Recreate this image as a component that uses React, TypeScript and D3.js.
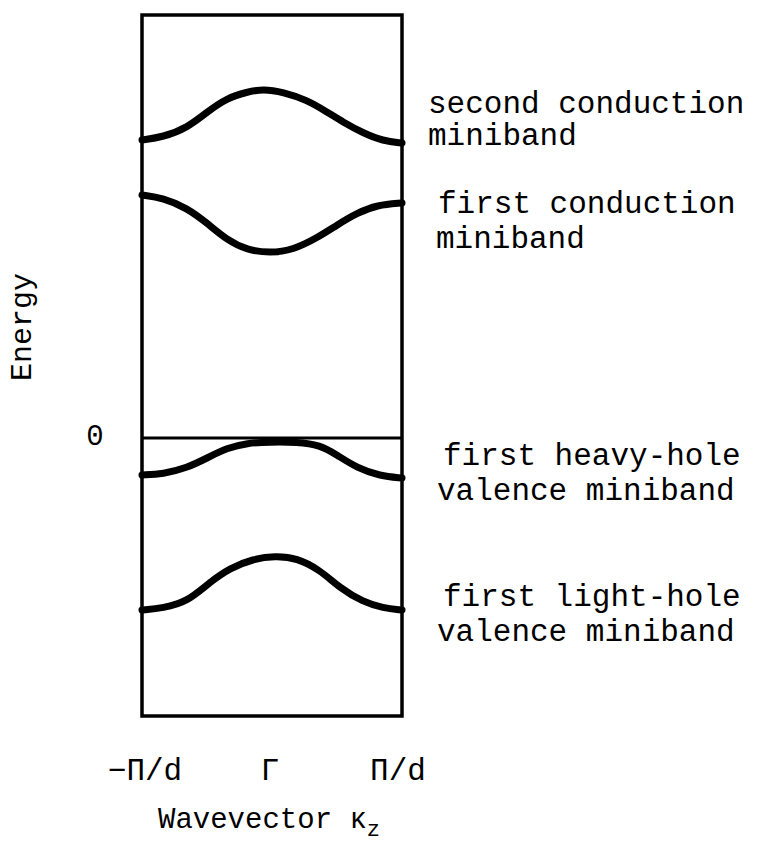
import React from "react";
import * as d3 from "d3";

// Wavevector in units of π/d, energy in arbitrary units (valence-band top = 0)
type Pt = [number, number];

const secondConduction: Pt[] = [
  [-1, 2.98], [-0.838, 3.01], [-0.654, 3.1], [-0.5, 3.26], [-0.346, 3.4],
  [-0.192, 3.46], [-0.069, 3.49], [0.085, 3.46], [0.269, 3.38], [0.423, 3.26],
  [0.546, 3.16], [0.7, 3.05], [0.854, 2.97], [1, 2.95],
];

const firstConduction: Pt[] = [
  [-1, 2.43], [-0.838, 2.4], [-0.654, 2.3], [-0.5, 2.15], [-0.346, 1.98],
  [-0.192, 1.88], [-0.015, 1.85], [0.162, 1.88], [0.346, 2.0], [0.5, 2.13],
  [0.654, 2.25], [0.808, 2.33], [1, 2.35],
];

const heavyHole: Pt[] = [
  [-1, -0.37], [-0.838, -0.36], [-0.654, -0.3], [-0.5, -0.2], [-0.346, -0.1],
  [-0.192, -0.05], [-0.015, -0.04], [0.192, -0.04], [0.369, -0.07], [0.5, -0.17],
  [0.654, -0.3], [0.831, -0.38], [1, -0.4],
];

const lightHole: Pt[] = [
  [-1, -1.72], [-0.838, -1.7], [-0.654, -1.64], [-0.477, -1.44], [-0.323, -1.3],
  [-0.146, -1.21], [0.023, -1.18], [0.192, -1.2], [0.369, -1.32], [0.523, -1.5],
  [0.7, -1.64], [0.854, -1.7], [1, -1.72],
];

const bands: Pt[][] = [secondConduction, firstConduction, heavyHole, lightHole];

const bandLabels: string[][] = [
  ["second conduction", "miniband"],
  ["first conduction", "miniband"],
  ["first heavy-hole", "valence miniband"],
  ["first light-hole", "valence miniband"],
];

const xTickValues = [-1, 0, 1];
const xTickLabels = ["\u2212\u03A0/d", "\u0393", "\u03A0/d"];
const zeroLabel = "0";
const yTitle = "Energy";
const xTitle = "Wavevector \u03BA";
const xTitleSub = "z";

const W = 759;
const H = 846;
const plot = { left: 142, right: 402, top: 15, bottom: 716 };

const FONT = "'Liberation Mono', 'DejaVu Sans Mono', monospace";

export default function App() {
  const x = d3.scaleLinear().domain([-1, 1]).range([plot.left, plot.right]);
  const y = d3.scaleLinear().domain([-2.78, 4.23]).range([plot.bottom, plot.top]);

  const line = d3
    .line<Pt>()
    .x((d) => x(d[0]))
    .y((d) => y(d[1]))
    .curve(d3.curveBasis);

  // label placement: [x of first line, x of second line, baseline of first line, line gap]
  const labelPos: [number, number, number, number][] = [
    [428, 428, 113, 32],
    [438, 436, 213, 35],
    [443, 437, 465, 35],
    [443, 437, 606, 35],
  ];

  return (
    <svg
      width={W}
      height={H}
      style={{ position: "absolute", left: 0, top: 0, background: "#fff" }}
    >
      <rect x={0} y={0} width={W} height={H} fill="#fff" />

      {/* frame */}
      <rect
        x={plot.left}
        y={plot.top}
        width={plot.right - plot.left}
        height={plot.bottom - plot.top}
        fill="none"
        stroke="#000"
        strokeWidth={3.5}
      />

      {/* zero-energy reference */}
      <line
        x1={x(-1)}
        x2={x(1)}
        y1={y(0)}
        y2={y(0)}
        stroke="#000"
        strokeWidth={3}
      />

      {bands.map((b, i) => (
        <path
          key={i}
          d={line(b) ?? ""}
          fill="none"
          stroke="#000"
          strokeWidth={7}
          strokeLinecap="round"
        />
      ))}

      <g fontFamily={FONT} fontSize={31} fill="#000">
        {bandLabels.map((lines, i) => {
          const [x1, x2, base, gap] = labelPos[i];
          return (
            <g key={i}>
              <text x={x1} y={base}>{lines[0]}</text>
              <text x={x2} y={base + gap}>{lines[1]}</text>
            </g>
          );
        })}
      </g>

      <text
        x={95}
        y={y(0) + 7}
        fontFamily={FONT}
        fontSize={29}
        textAnchor="middle"
      >
        {zeroLabel}
      </text>

      <text
        transform="translate(31,327) rotate(-90)"
        fontFamily={FONT}
        fontSize={30}
        textAnchor="middle"
      >
        {yTitle}
      </text>

      <g fontFamily={FONT} fontSize={31}>
        {xTickValues.map((v, i) => (
          <text
            key={i}
            x={x(v) + (i === 0 ? 3 : i === 2 ? -4 : -2)}
            y={780}
            textAnchor="middle"
          >
            {xTickLabels[i]}
          </text>
        ))}
      </g>

      <text x={158} y={828} fontFamily={FONT} fontSize={29}>
        {xTitle}
        <tspan fontSize={22} dy={8}>
          {xTitleSub}
        </tspan>
      </text>
    </svg>
  );
}
